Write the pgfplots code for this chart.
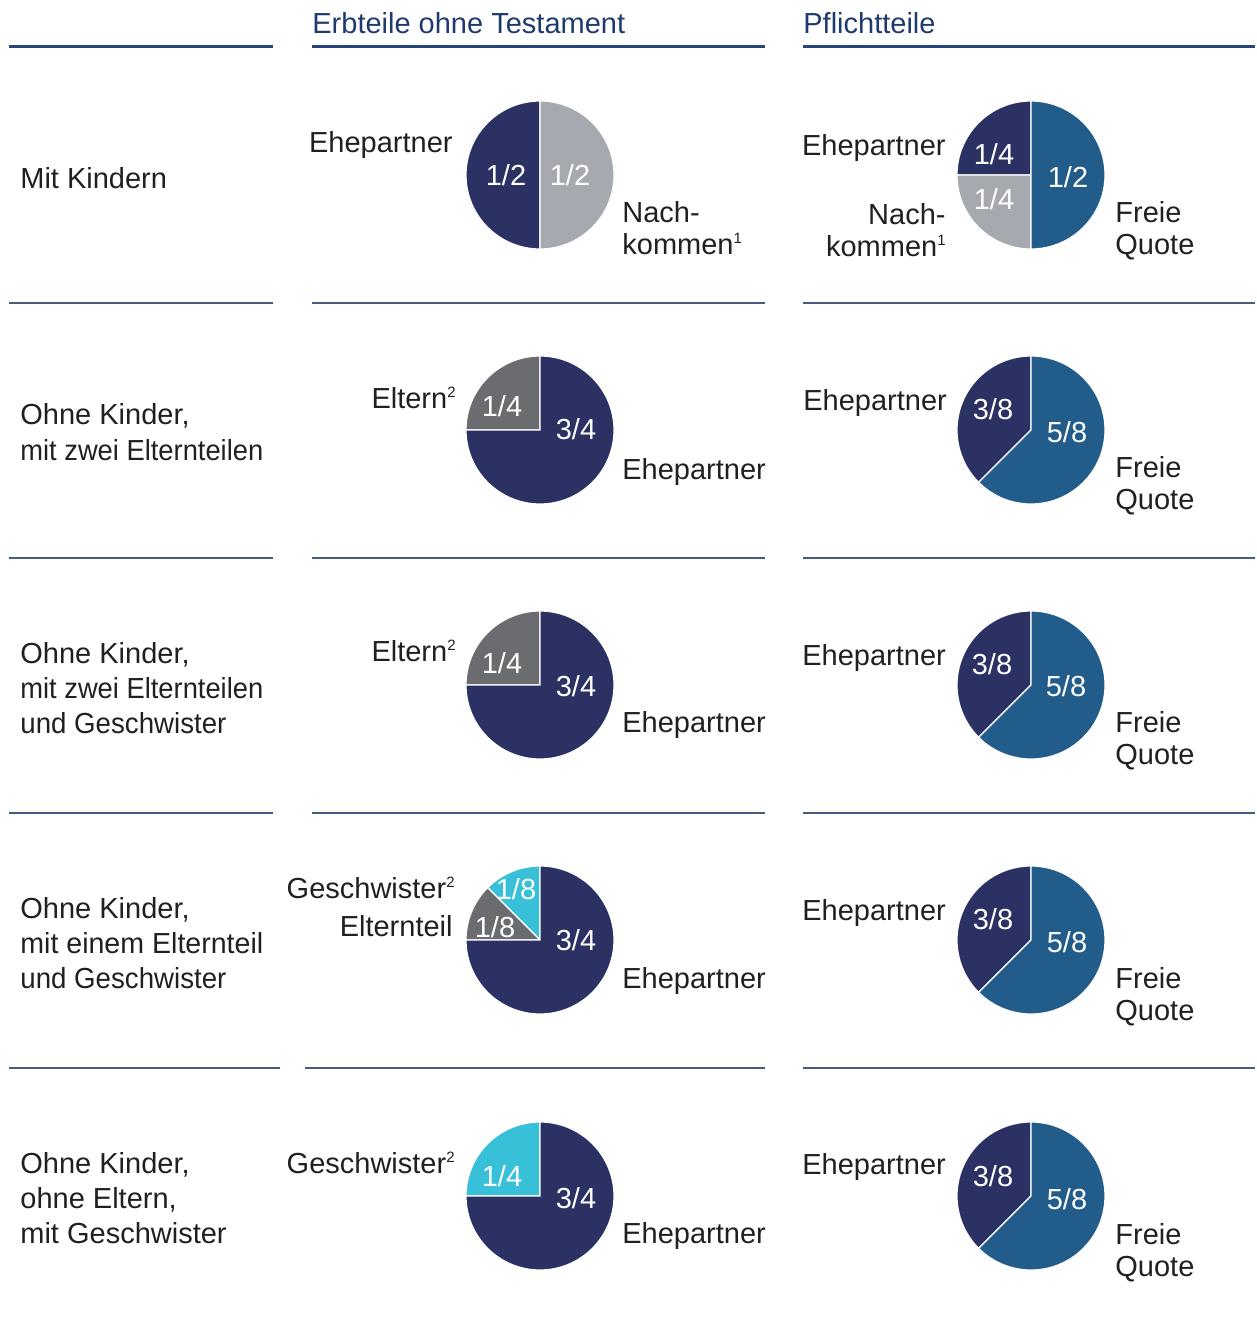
\documentclass[border=0pt]{standalone}
\usepackage{pgfplots}
\pgfplotsset{compat=1.18}
\usepackage{fontspec}
\setmainfont{Liberation Sans}

\definecolor{navy}{HTML}{2B3263}
\definecolor{lgray}{HTML}{A6AAB0}
\definecolor{dgray}{HTML}{6B6C70}
\definecolor{mblue}{HTML}{215C8A}
\definecolor{cyanp}{HTML}{38C0D8}
\definecolor{head}{HTML}{1F3B6E}
\definecolor{hline}{HTML}{27457A}
\definecolor{sline}{HTML}{4A5A80}
\definecolor{txt}{HTML}{231F20}

% slice from cumulative fraction #3 to #4, counterclockwise from 12 o'clock
\newcommand{\slice}[5]{%
  \fill[#5,draw=white,line width=0.6pt] (axis cs:#1,#2) -- ++({90+360*#3}:37pt)
    arc[start angle={90+360*#3},end angle={90+360*#4},radius=37pt] -- cycle;}
\newcommand{\lab}[4]{\node[anchor=#3,inner sep=0pt,text=txt] at (axis cs:#1,#2) {#4};}
% condensed label (reference sets some row titles tighter)
\newcommand{\labc}[5]{\node[anchor=#3,inner sep=0pt,text=txt,xscale=#5] at (axis cs:#1,#2) {#4};}
\newcommand{\val}[3]{\node[anchor=base,inner sep=0pt,text=white] at (axis cs:#1,#2) {#3};}
\newcommand{\sups}[1]{\raisebox{5.5pt}{\fontsize{7.5}{8}\selectfont #1}}

\begin{document}
\fontsize{14.5}{17.5}\selectfont
\begin{tikzpicture}
\begin{axis}[
  hide axis, scale only axis, clip=false,
  width=627.5pt, height=659.5pt,
  xmin=0, xmax=1255, ymin=0, ymax=1319,
  y dir=reverse,
]
% full page frame (invisible)
\path (axis cs:0,0) rectangle (axis cs:1255,1319);
% headers
\node[anchor=base west,inner sep=0pt,text=head] at (axis cs:312,33) {Erbteile ohne Testament};
\node[anchor=base west,inner sep=0pt,text=head] at (axis cs:803,33) {Pflichtteile};
\addplot[hline,line width=1.5pt] coordinates {(9,46) (273,46)};
\addplot[hline,line width=1.5pt] coordinates {(312,46) (765,46)};
\addplot[hline,line width=1.5pt] coordinates {(803,46) (1255,46)};
% separators
\foreach \yy in {303,558,813} {
  \edef\tmp{\noexpand\addplot[sline,line width=0.75pt] coordinates {(9,\yy) (273,\yy)};
    \noexpand\addplot[sline,line width=0.75pt] coordinates {(312,\yy) (765,\yy)};
    \noexpand\addplot[sline,line width=0.75pt] coordinates {(803,\yy) (1255,\yy)};}
  \tmp
}
\addplot[sline,line width=0.75pt] coordinates {(9,1068) (280,1068)};
\addplot[sline,line width=0.75pt] coordinates {(305,1068) (765,1068)};
\addplot[sline,line width=0.75pt] coordinates {(803,1068) (1255,1068)};

% ---- row 1
\lab{20}{188}{base west}{Mit Kindern}
\slice{540}{175}{0}{0.5}{navy}
\slice{540}{175}{0.5}{1}{lgray}
\val{506}{185}{1/2}
\val{570}{185}{1/2}
\lab{453}{152}{base east}{Ehepartner}
\lab{622}{222}{base west}{Nach-}
\lab{622}{254}{base west}{kommen\sups{1}}
\slice{1031}{175}{0}{0.25}{navy}
\slice{1031}{175}{0.25}{0.5}{lgray}
\slice{1031}{175}{0.5}{1}{mblue}
\val{994}{164}{1/4}
\val{994}{209}{1/4}
\val{1068}{187}{1/2}
\lab{946}{155}{base east}{Ehepartner}
\lab{946}{224}{base east}{Nach-}
\lab{946}{256}{base east}{kommen\sups{1}}
\lab{1115}{222}{base west}{Freie}
\lab{1115}{254}{base west}{Quote}

% ---- row 2
\lab{20}{424}{base west}{Ohne Kinder,}
\labc{20}{460}{base west}{mit zwei Elternteilen}{0.942}
\slice{540}{430}{0}{0.25}{dgray}
\slice{540}{430}{0.25}{1}{navy}
\val{502}{416}{1/4}
\val{576}{439}{3/4}
\lab{456}{408}{base east}{Eltern\sups{2}}
\lab{622}{479}{base west}{Ehepartner}
\slice{1031}{430}{0}{0.375}{navy}
\slice{1031}{430}{0.375}{1}{mblue}
\val{993}{419}{3/8}
\val{1067}{442}{5/8}
\lab{803}{410}{base west}{Ehepartner}
\lab{1115}{477}{base west}{Freie}
\lab{1115}{509}{base west}{Quote}

% ---- row 3
\lab{20}{663}{base west}{Ohne Kinder,}
\labc{20}{698}{base west}{mit zwei Elternteilen}{0.942}
\labc{20}{733}{base west}{und Geschwister}{0.954}
\slice{540}{685}{0}{0.25}{dgray}
\slice{540}{685}{0.25}{1}{navy}
\val{502}{673}{1/4}
\val{576}{696}{3/4}
\lab{456}{661}{base east}{Eltern\sups{2}}
\lab{622}{732}{base west}{Ehepartner}
\slice{1031}{685}{0}{0.375}{navy}
\slice{1031}{685}{0.375}{1}{mblue}
\val{992}{674}{3/8}
\val{1066}{696}{5/8}
\lab{802}{665}{base west}{Ehepartner}
\lab{1115}{732}{base west}{Freie}
\lab{1115}{764}{base west}{Quote}

% ---- row 4
\lab{20}{918}{base west}{Ohne Kinder,}
\labc{20}{953}{base west}{mit einem Elternteil}{0.985}
\labc{20}{988}{base west}{und Geschwister}{0.954}
\slice{540}{940}{0}{0.125}{cyanp}
\slice{540}{940}{0.125}{0.25}{dgray}
\slice{540}{940}{0.25}{1}{navy}
\val{516}{899}{1/8}
\val{495}{937}{1/8}
\val{576}{950}{3/4}
\lab{455}{898}{base east}{Geschwister\sups{2}}
\lab{453}{936}{base east}{Elternteil}
\lab{622}{988}{base west}{Ehepartner}
\slice{1031}{940}{0}{0.375}{navy}
\slice{1031}{940}{0.375}{1}{mblue}
\val{993}{929}{3/8}
\val{1067}{952}{5/8}
\lab{802}{920}{base west}{Ehepartner}
\lab{1115}{988}{base west}{Freie}
\lab{1115}{1020}{base west}{Quote}

% ---- row 5
\lab{20}{1173}{base west}{Ohne Kinder,}
\lab{20}{1208}{base west}{ohne Eltern,}
\lab{20}{1243}{base west}{mit Geschwister}
\slice{540}{1196}{0}{0.25}{cyanp}
\slice{540}{1196}{0.25}{1}{navy}
\val{502}{1186}{1/4}
\val{576}{1208}{3/4}
\lab{455}{1173}{base east}{Geschwister\sups{2}}
\lab{622}{1243}{base west}{Ehepartner}
\slice{1031}{1196}{0}{0.375}{navy}
\slice{1031}{1196}{0.375}{1}{mblue}
\val{993}{1186}{3/8}
\val{1067}{1209}{5/8}
\lab{802}{1174}{base west}{Ehepartner}
\lab{1115}{1244}{base west}{Freie}
\lab{1115}{1276}{base west}{Quote}
\end{axis}
\end{tikzpicture}
\end{document}
